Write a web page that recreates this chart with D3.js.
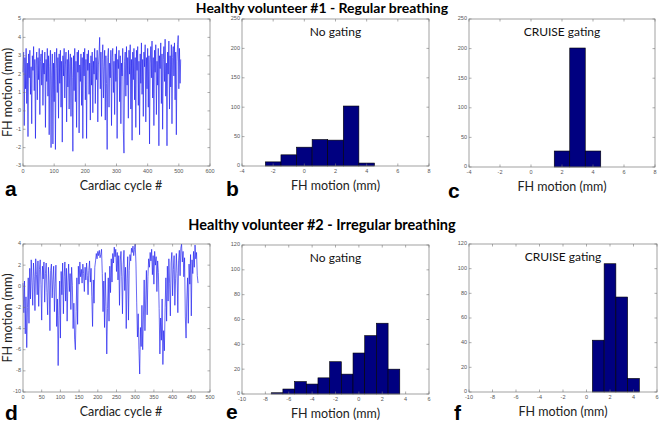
<!DOCTYPE html>
<html><head><meta charset="utf-8">
<script src="https://cdn.jsdelivr.net/npm/d3@7"></script>
<style>body{margin:0;background:#fff}svg{display:block}</style>
</head><body>
<script>
// ---------- DATA ----------
const titles = ["Healthy volunteer #1 - Regular breathing", "Healthy volunteer #2 - Irregular breathing"];
// Volunteer 1 FH motion (mm), every 2nd cardiac cycle
const motion1 = [
2.1,3.2,-0.8,2.9,1.2,3.4,0.4,2.6,-1.4,3.1,1.8,3.3,0.9,2.4,-0.7,3.0,2.2,3.5,1.1,2.8,
-1.5,2.5,3.2,0.6,2.9,1.7,3.4,-0.2,2.7,3.1,1.4,3.3,0.3,2.6,2.0,3.2,-0.9,2.8,1.6,3.4,
0.8,3.0,-1.3,2.4,3.3,-2.0,1.9,3.1,-1.8,2.6,0.5,3.2,-2.1,2.3,3.4,1.0,2.9,-0.4,3.1,1.5,
3.3,0.2,2.7,-1.7,3.0,1.9,3.4,0.7,2.5,3.2,-0.6,2.8,1.3,3.3,0.1,2.6,3.1,-0.3,2.9,1.8,
-2.2,3.0,1.1,3.4,0.5,2.7,-0.9,3.2,2.1,3.3,-1.2,2.5,1.6,3.1,0.3,2.9,-1.5,3.2,1.9,3.4,
0.6,2.8,-1.5,3.1,2.2,3.3,0.9,2.6,-0.5,3.0,1.4,3.2,-0.1,2.7,2.0,3.4,0.4,2.9,1.7,3.3,
-0.6,2.5,3.1,4.0,1.2,3.2,-0.3,2.8,3.6,0.7,2.4,3.3,-0.5,3.0,1.5,-2.1,2.9,3.4,0.2,2.6,
1.8,3.3,-0.8,2.9,3.4,1.0,2.7,-0.2,3.1,1.6,3.5,-1.5,2.8,2.3,3.3,0.5,3.0,-0.7,2.6,1.9,
3.4,-1.1,-2.3,2.7,3.2,0.8,3.5,1.4,2.9,-0.4,3.3,2.0,3.6,0.1,2.8,-1.6,3.2,1.7,3.4,0.6,
2.9,-0.9,3.3,2.2,3.5,0.3,2.7,-1.3,3.1,1.5,3.7,0.9,2.8,-0.3,3.2,2.4,3.6,-0.6,2.9,1.2,
3.4,0.2,3.0,-1.8,2.6,3.5,1.8,3.8,0.7,2.9,-0.8,3.3,2.1,3.6,-0.2,2.7,1.4,3.4,-1.9,3.0,
2.3,3.7,0.4,3.1,-1.0,2.8,3.5,1.6,3.9,0.8,2.6,-1.9,3.2,2.0,3.8,0.1,3.0,1.3,3.6,-0.7,
2.9,3.5,1.9,3.7,0.6,3.2,-1.3,2.7,3.6,4.1,1.2,3.4,1.5,2.8];
// Volunteer 2 FH motion (mm), every 2nd cardiac cycle
const motion2 = [
0.3,-2.5,0.5,-4.5,-1.0,-5.8,-2.0,0.8,-3.5,1.7,-1.2,
2.5,0.4,-1.8,2.2,0.9,-2.3,2.6,1.1,-0.8,2.4,-1.9,1.6,2.5,0.2,-3.2,1.9,0.7,2.3,-1.5,1.2,
2.2,-0.6,-2.7,1.8,0.4,-4.2,1.5,2.1,-1.1,0.6,1.9,-2.4,0.3,2.0,-3.8,-1.2,-7.5,-2.8,0.5,-4.9,
1.4,-0.8,2.2,-2.6,0.9,2.3,-1.4,1.7,-3.3,0.4,2.1,-0.5,1.2,-2.2,1.8,0.1,-4.0,-1.6,-5.0,-6.0,
-2.4,0.8,-3.6,1.9,0.2,2.3,0.9,1.6,0.3,2.1,1.2,-0.5,1.8,0.6,2.2,1.0,-0.8,1.5,2.4,0.4,
1.7,-1.0,-3.8,0.6,-1.6,1.8,2.4,3.1,2.6,3.3,2.9,3.4,2.7,3.0,3.5,1.2,-2.4,0.5,-3.9,1.3,
-1.9,-6.4,-2.1,0.8,-3.3,1.9,-0.6,2.6,0.4,3.1,2.2,3.7,2.8,3.5,1.4,3.2,0.6,2.9,-1.8,2.4,
3.3,0.9,-2.6,2.1,3.4,-0.4,1.8,-4.0,0.7,2.8,-3.2,1.5,3.0,2.4,3.6,3.2,3.8,2.9,3.5,4.0,
2.2,-1.5,-4.8,-2.6,-6.0,-8.3,-3.9,-5.7,-1.8,-6.0,-2.9,0.6,-4.2,-1.3,1.5,-2.7,0.9,2.6,1.8,3.2,
2.4,3.5,1.1,2.9,0.2,3.3,2.0,2.8,-0.5,2.4,1.3,-2.1,-6.4,-3.0,-5.1,-1.2,-7.4,-4.2,-6.1,-2.0,
0.8,-3.3,1.9,-1.4,2.6,0.3,-2.8,2.2,3.2,-0.9,1.6,2.9,-1.8,0.7,3.1,1.2,-2.5,2.4,3.4,1.0,
3.6,4.0,2.3,3.3,0.9,2.7,-2.9,-4.9,-1.3,0.8,-3.5,2.1,0.2,3.0,-2.8,2.5,1.2,3.3,1.8,3.9,
2.6,3.2,1.0,0.3];
const cycleStep = 2;
// Histograms: bin centres (mm) and counts
const binsB = [-2,-1,0,1,2,3,4];          const countsB = [7,19,32,45,44,102,5];
const binsC = [2,3,4];                    const countsC = [27,201,27];
const binsE = [-7,-6,-5,-4,-3,-2,-1,0,1,2,3]; const countsE = [1,4,10,8,13,26,16,33,47,57,20];
const binsF = [1,2,3,4];                  const countsF = [42,104,77,11];
const histTitles = ["No gating", "CRUISE gating"];
const xLabelTime = "Cardiac cycle #";
const xLabelHist = "FH motion (mm)";
const yLabelTime = "FH motion (mm)";
const letters = ["a","b","c","d","e","f"];

// ---------- DRAW ----------
const W = 660, H = 424;
const svg = d3.select("body").append("svg").attr("width", W).attr("height", H);
const FONT = "Lato, 'Open Sans', sans-serif";
const TICKFONT = "Arial, 'Liberation Sans', sans-serif";

function frame(g, x, y, xTicks, yTicks) {
  const [x0, x1] = x.range(), [y1, y0] = y.range();
  g.append("rect").attr("x", x0).attr("y", y0).attr("width", x1 - x0).attr("height", y1 - y0)
    .attr("fill", "none").attr("stroke", "#8a8a8a").attr("stroke-width", 0.8);
  const tl = 2.5;
  xTicks.forEach(t => {
    const px = x(t);
    g.append("line").attr("x1", px).attr("x2", px).attr("y1", y1).attr("y2", y1 - tl).attr("stroke", "#777").attr("stroke-width", 0.6);
    g.append("line").attr("x1", px).attr("x2", px).attr("y1", y0).attr("y2", y0 + tl).attr("stroke", "#777").attr("stroke-width", 0.6);
    g.append("text").attr("x", px).attr("y", y1 + 6.8).attr("text-anchor", "middle")
      .attr("font-size", 5.5).attr("font-family", TICKFONT).attr("fill", "#555").text(t);
  });
  yTicks.forEach(t => {
    const py = y(t);
    g.append("line").attr("x1", x0).attr("x2", x0 + tl).attr("y1", py).attr("y2", py).attr("stroke", "#777").attr("stroke-width", 0.6);
    g.append("line").attr("x1", x1).attr("x2", x1 - tl).attr("y1", py).attr("y2", py).attr("stroke", "#777").attr("stroke-width", 0.6);
    g.append("text").attr("x", x0 - 2).attr("y", py + 1.4).attr("text-anchor", "end")
      .attr("font-size", 5.5).attr("font-family", TICKFONT).attr("fill", "#555").text(t);
  });
}

function timePanel(box, data, xDom, xTicks, yDom, yTicks, letter, letterY) {
  const g = svg.append("g");
  const x = d3.scaleLinear().domain(xDom).range([box.l, box.r]);
  const y = d3.scaleLinear().domain(yDom).range([box.b, box.t]);
  const line = d3.line().x((d, i) => x(i * cycleStep)).y(d => y(d));
  g.append("path").datum(data).attr("d", line).attr("fill", "none")
    .attr("stroke", "#2020ee").attr("stroke-width", 0.75).attr("stroke-opacity", 0.9);
  frame(g, x, y, xTicks, yTicks);
  g.append("text").attr("x", 121).attr("y", box.b + 24).attr("text-anchor", "middle")
    .attr("font-size", 12.5).attr("font-family", FONT).attr("fill", "#222").text(xLabelTime);
  g.append("text").attr("transform", `translate(12,${(box.t + box.b) / 2}) rotate(-90)`)
    .attr("text-anchor", "middle").attr("font-size", 12.5).attr("font-family", FONT).attr("fill", "#222").text(yLabelTime);
  g.append("text").attr("x", 5).attr("y", letterY).attr("font-size", 21).attr("font-weight", "bold")
    .attr("font-family", TICKFONT).text(letter);
}

function histPanel(box, bins, counts, xDom, xTicks, yDom, yTicks, title, letter, letterX, letterY) {
  const g = svg.append("g");
  const x = d3.scaleLinear().domain(xDom).range([box.l, box.r]);
  const y = d3.scaleLinear().domain(yDom).range([box.b, box.t]);
  g.selectAll("rect.bar").data(bins).enter().append("rect").attr("class", "bar")
    .attr("x", d => x(d - 0.5)).attr("width", d => x(d + 0.5) - x(d - 0.5))
    .attr("y", (d, i) => y(counts[i])).attr("height", (d, i) => y(0) - y(counts[i]))
    .attr("fill", "#000080").attr("stroke", "#000").attr("stroke-width", 0.6);
  frame(g, x, y, xTicks, yTicks);
  g.append("text").attr("x", (box.l + box.r) / 2).attr("y", box.t + 17).attr("text-anchor", "middle")
    .attr("font-size", 12).attr("font-family", FONT).attr("fill", "#111").text(title);
  g.append("text").attr("x", (box.l + box.r) / 2).attr("y", box.b + 24).attr("text-anchor", "middle")
    .attr("font-size", 12.5).attr("font-family", FONT).attr("fill", "#222").text(xLabelHist);
  g.append("text").attr("x", letterX).attr("y", letterY).attr("font-size", 21).attr("font-weight", "bold")
    .attr("font-family", TICKFONT).text(letter);
}

// titles
svg.append("text").attr("x", 322).attr("y", 13).attr("text-anchor", "middle").attr("font-size", 14)
  .attr("font-weight", "bold").attr("font-family", FONT).text(titles[0]);
svg.append("text").attr("x", 322).attr("y", 230).attr("text-anchor", "middle").attr("font-size", 14.5)
  .attr("font-weight", "bold").attr("font-family", FONT).text(titles[1]);

// row 1
timePanel({l: 23, r: 210, t: 19, b: 166}, motion1, [0, 600], d3.range(0, 601, 100), [-3, 5], d3.range(-3, 6, 1), letters[0], 196);
histPanel({l: 242, r: 429, t: 19, b: 166}, binsB, countsB, [-4, 8], d3.range(-4, 9, 2), [0, 250], d3.range(0, 251, 50), histTitles[0], letters[1], 226, 196);
histPanel({l: 469, r: 655, t: 19, b: 167}, binsC, countsC, [-4, 8], d3.range(-4, 9, 2), [0, 250], d3.range(0, 251, 50), histTitles[1], letters[2], 448, 198);
// row 2
timePanel({l: 23, r: 210, t: 244, b: 392}, motion2, [0, 500], d3.range(0, 501, 50), [-10, 4], d3.range(-10, 5, 2), letters[3], 420);
histPanel({l: 242, r: 429, t: 245, b: 394}, binsE, countsE, [-10, 6], d3.range(-10, 7, 2), [0, 120], d3.range(0, 121, 20), histTitles[0], letters[4], 226, 419);
histPanel({l: 469, r: 657, t: 244, b: 392}, binsF, countsF, [-10, 6], d3.range(-10, 7, 2), [0, 120], d3.range(0, 121, 20), histTitles[1], letters[5], 454, 420);
</script>
</body></html>
